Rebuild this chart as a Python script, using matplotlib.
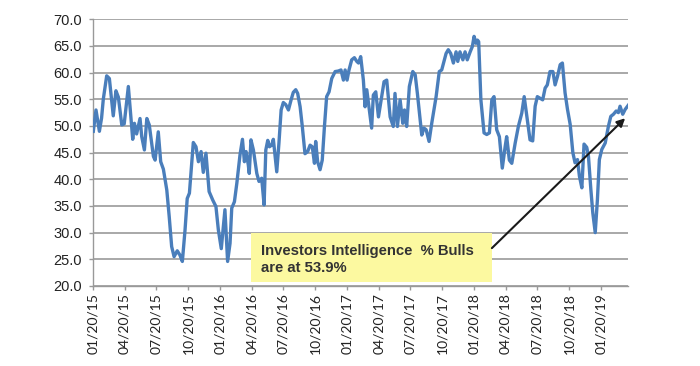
import numpy as np
import pandas as pd
import matplotlib
matplotlib.use("Agg")
import matplotlib.pyplot as plt
import matplotlib.dates as mdates
from matplotlib.patches import Rectangle

# Investors Intelligence % bulls
# position = weeks after 2015-01-20
start_date = "2015-01-20"
week_pos = [
    0.0, 1.1, 2.5, 3.4, 4.1, 5.5, 6.6, 8.2, 9.3, 10.3, 11.7, 12.7, 14.4, 16.2,
    16.9, 17.8, 19.2, 19.9, 21.0, 22.0, 23.0, 24.7, 25.4, 26.7, 27.7, 28.8,
    30.2, 31.2, 32.2, 33.2, 34.5, 35.6, 36.6, 37.7, 38.6, 39.5, 41.1, 42.2,
    43.2, 44.3, 45.2, 46.3, 47.6, 49.1, 50.4, 51.4, 52.6, 54.1, 55.2, 56.2,
    56.9, 58.0, 59.0, 60.3, 61.3, 62.1, 62.8, 63.7, 64.1, 64.8, 65.8, 67.2,
    68.1, 69.2, 70.2, 70.9, 71.7, 72.4, 73.3, 74.0, 75.4, 76.3, 77.2, 78.1,
    79.1, 80.2, 81.3, 82.2, 83.2, 84.0, 85.0, 85.9, 87.0, 88.1, 89.1, 90.0,
    90.9, 91.4, 92.2, 93.2, 94.1, 95.0, 95.9, 96.9, 98.0, 99.4, 100.7, 101.8,
    102.8, 103.5, 104.3, 105.1, 106.2, 107.3, 108.3, 109.0, 109.9, 111.0,
    111.7, 112.4, 113.1, 114.4, 115.1, 116.1, 117.2, 119.5, 120.6, 122.0,
    123.3, 124.0, 125.0, 126.1, 127.2, 127.9, 128.8, 129.9, 131.3, 132.3,
    133.2, 135.0, 135.9, 136.8, 138.0, 139.1, 140.9, 142.2, 143.2, 145.0,
    145.9, 146.9, 148.0, 149.1, 149.8, 150.7, 151.9, 152.8, 153.7, 154.9,
    155.8, 156.5, 157.3, 157.9, 158.4, 159.3, 160.6, 161.7, 162.8, 163.8,
    164.7, 165.8, 166.9, 168.1, 169.3, 169.9, 171.0, 172.0, 173.4, 174.7,
    176.1, 177.1, 178.2, 179.5, 180.6, 181.6, 182.5, 183.6, 184.7, 185.7,
    186.6, 187.7, 188.9, 189.8, 190.8, 191.9, 192.8, 193.9, 194.9, 196.0,
    197.1, 198.0, 199.0, 199.8, 200.8, 201.7, 202.8, 203.5, 204.5, 205.3,
    206.3, 207.2, 208.0, 209.0, 210.4, 211.7, 212.7, 213.8, 214.9, 215.8,
    216.5, 217.6, 218.6, 219.9,
]
bulls = [
    49.0, 53.0, 49.0, 51.5, 55.0, 59.4, 58.9, 51.9, 56.6, 55.4, 50.2, 50.4, 57.4, 47.5,
    50.5, 48.5, 51.4, 48.0, 45.5, 51.4, 50.2, 44.3, 43.6, 48.9, 43.3, 41.9,
    38.0, 33.0, 27.4, 25.5, 26.6, 25.8, 24.6, 30.5, 36.4, 37.4, 46.9, 46.1,
    43.3, 45.2, 41.3, 44.9, 37.7, 36.1, 34.9, 30.5, 27.0, 34.3, 24.6, 28.0,
    34.6, 35.8, 39.3, 44.6, 47.5, 43.3, 45.2, 42.7, 41.1, 47.4, 45.5, 41.1,
    39.6, 40.2, 35.2, 45.5, 47.3, 46.1, 46.4, 47.5, 41.4, 46.8, 53.0, 54.4,
    54.0, 53.0, 54.9, 56.3, 56.8, 56.1, 53.6, 49.9, 44.8, 45.2, 46.4, 46.1,
    43.0, 47.1, 43.3, 41.8, 43.6, 49.9, 55.5, 56.4, 58.9, 60.2, 60.3, 60.5,
    58.6, 60.5, 58.6, 60.5, 62.4, 62.8, 62.1, 61.8, 63.0, 58.6,
    53.6, 56.8, 54.3, 49.6, 55.8, 56.4, 51.7, 58.3, 58.6, 51.7,
    49.9, 56.1, 49.9, 54.9, 50.5, 53.0, 49.9, 57.4, 60.2, 59.6,
    56.1, 48.3, 49.6, 49.3, 47.1, 50.5, 55.5, 60.2, 60.5, 63.6,
    64.3, 63.6, 61.8, 63.9, 62.1, 63.9, 62.4, 63.9, 62.4, 63.9,
    64.9, 66.8, 65.5, 66.1, 65.8, 54.9, 48.7, 48.4, 48.7, 54.9,
    55.5, 49.3, 48.0, 42.1, 46.2, 48.0, 43.6, 43.0, 46.8, 49.9,
    52.4, 55.5, 51.8, 47.4, 47.2, 53.7, 55.5, 55.2, 54.9, 57.1,
    57.7, 60.2, 60.2, 57.7, 59.3, 61.5, 61.8, 56.2, 53.1, 50.3,
    45.0, 43.1, 43.7, 40.6, 38.4, 46.6, 46.0, 44.4, 38.1, 33.7,
    30.0, 36.2, 43.7, 45.6, 46.8, 49.9, 51.8, 52.2, 52.8, 52.5,
    53.7, 52.2, 53.1, 53.9,
]
tick_dates = ["2015-01-20", "2015-04-20", "2015-07-20", "2015-10-20",
              "2016-01-20", "2016-04-20", "2016-07-20", "2016-10-20",
              "2017-01-20", "2017-04-20", "2017-07-20", "2017-10-20",
              "2018-01-20", "2018-04-20", "2018-07-20", "2018-10-20",
              "2019-01-20"]
y_ticks = [20, 25, 30, 35, 40, 45, 50, 55, 60, 65, 70]
note = "Investors Intelligence  % Bulls\nare at 53.9%"

dates = pd.Timestamp(start_date) + pd.to_timedelta(np.array(week_pos) * 7, unit="D")

fig = plt.figure(figsize=(7, 3.66), dpi=100)
ax = fig.add_axes([0.1333, 0.2186, 0.7643, 0.7287])

ax.plot(dates, bulls, color="#4A7EBB", lw=2.4, solid_joinstyle="round", zorder=3)

ax.set_ylim(20, 70)
ax.set_yticks(y_ticks)
ax.set_yticklabels([f"{v:.1f}" for v in y_ticks], family="Liberation Sans",
                   fontsize=10.5, color="#222222")
ax.yaxis.grid(True, color="#999999", lw=1.2)
ax.set_axisbelow(True)

ax.set_xlim(dates[0], dates[-1])
ax.set_xticks(pd.to_datetime(tick_dates))
ax.xaxis.set_major_formatter(mdates.DateFormatter("%m/%d/%y"))
plt.setp(ax.get_xticklabels(), rotation=90, family="Lato", fontsize=10, color="#222222")

for side in ["top", "right"]:
    ax.spines[side].set_visible(False)
for side in ["left", "bottom"]:
    ax.spines[side].set_color("#999999")
    ax.spines[side].set_linewidth(1.0)
ax.tick_params(axis="both", color="#999999", length=3, width=1)
ax.tick_params(axis="y", pad=5)
ax.tick_params(axis="x", pad=2)

# yellow note box with arrow to the latest reading
ax.add_patch(Rectangle((0.294, 0.015), 0.451, 0.184, transform=ax.transAxes,
                       facecolor="#FCF9A0", edgecolor="none", zorder=4))
ax.text(0.314, 0.099, note, transform=ax.transAxes, ha="left", va="center",
        family="Liberation Sans", fontweight="bold", fontsize=10.7,
        color="#333333", linespacing=1.25, zorder=5)
ax.annotate("", xy=(0.994, 0.629), xytext=(0.745, 0.142),
            xycoords="axes fraction", textcoords="axes fraction",
            arrowprops=dict(arrowstyle="-|>", color="#1a1a1a", lw=1.5,
                            mutation_scale=12, shrinkA=0, shrinkB=0),
            zorder=6)

fig.savefig("out.png", dpi=100)
